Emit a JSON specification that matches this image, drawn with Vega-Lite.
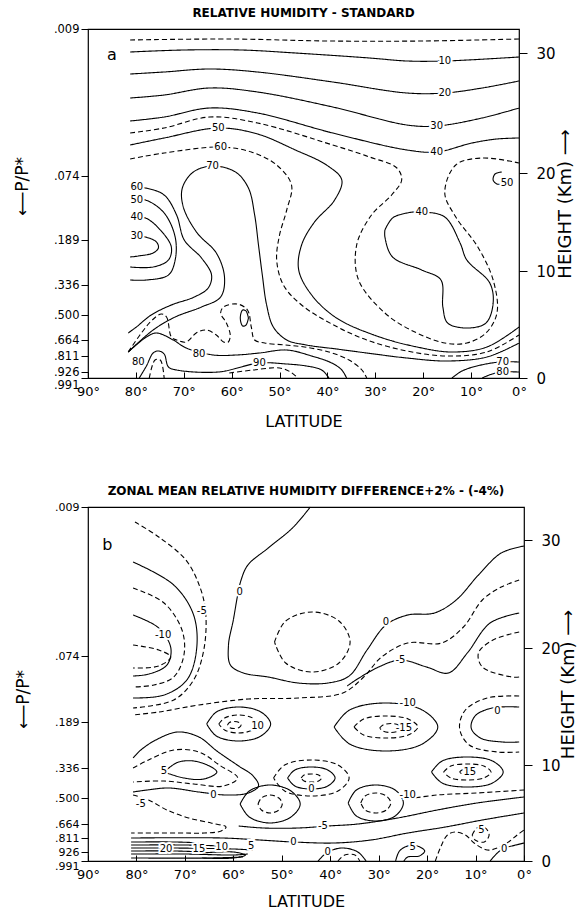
{
  "$schema": "https://vega.github.io/schema/vega-lite/v6.json",
  "background": "white",
  "padding": {"left": 12, "top": 6, "right": 4, "bottom": 4},
  "spacing": 54,
  "config": {
    "view": {"stroke": "black", "strokeWidth": 1.2},
    "font": "DejaVu Sans",
    "axis": {"domainColor": "black", "tickColor": "black", "labelColor": "black", "titleColor": "black", "grid": false, "labelFont": "DejaVu Sans", "titleFont": "DejaVu Sans", "labelFlush": false, "labelOverlap": false},
    "title": {"font": "DejaVu Sans", "fontSize": 12, "fontWeight": "bold", "color": "black", "offset": 3}
  },
  "datasets": {
    "top": [
      {"id": "T1", "c": "h", "lat": 81.2, "z": 338}, {"id": "T1", "c": "h", "lat": 60, "z": 339}, {"id": "T1", "c": "h", "lat": 40, "z": 337}, {"id": "T1", "c": "h", "lat": 20, "z": 337}, {"id": "T1", "c": "h", "lat": 0, "z": 339},
      {"id": "T2", "c": "m", "lat": 81.2, "z": 326}, {"id": "T2", "c": "m", "lat": 70, "z": 328}, {"id": "T2", "c": "m", "lat": 58, "z": 328}, {"id": "T2", "c": "m", "lat": 46.7, "z": 325}, {"id": "T2", "c": "m", "lat": 31.2, "z": 320}, {"id": "T2", "c": "m", "lat": 23.4, "z": 317}, {"id": "T2", "c": "m", "lat": 15.5, "z": 317}, {"id": "T2", "c": "m", "lat": 0, "z": 321},
      {"id": "T3", "c": "m", "lat": 81.2, "z": 304}, {"id": "T3", "c": "m", "lat": 74.1, "z": 306}, {"id": "T3", "c": "m", "lat": 64.6, "z": 309}, {"id": "T3", "c": "m", "lat": 54.6, "z": 306}, {"id": "T3", "c": "m", "lat": 38.9, "z": 296}, {"id": "T3", "c": "m", "lat": 23.4, "z": 285}, {"id": "T3", "c": "m", "lat": 15.5, "z": 285}, {"id": "T3", "c": "m", "lat": 7.7, "z": 290}, {"id": "T3", "c": "m", "lat": 0, "z": 297},
      {"id": "T4", "c": "m", "lat": 81.2, "z": 280}, {"id": "T4", "c": "m", "lat": 74.1, "z": 283}, {"id": "T4", "c": "m", "lat": 64.6, "z": 290}, {"id": "T4", "c": "m", "lat": 54.6, "z": 286}, {"id": "T4", "c": "m", "lat": 38.9, "z": 271}, {"id": "T4", "c": "m", "lat": 23.4, "z": 253}, {"id": "T4", "c": "m", "lat": 17.2, "z": 252}, {"id": "T4", "c": "m", "lat": 7.7, "z": 260}, {"id": "T4", "c": "m", "lat": 0, "z": 270},
      {"id": "T5", "c": "m", "lat": 81.2, "z": 257}, {"id": "T5", "c": "m", "lat": 74.1, "z": 261}, {"id": "T5", "c": "m", "lat": 64.6, "z": 270}, {"id": "T5", "c": "m", "lat": 54.6, "z": 265}, {"id": "T5", "c": "m", "lat": 38.9, "z": 245}, {"id": "T5", "c": "m", "lat": 23.4, "z": 228}, {"id": "T5", "c": "m", "lat": 17.2, "z": 226}, {"id": "T5", "c": "m", "lat": 9.8, "z": 235}, {"id": "T5", "c": "m", "lat": 4.6, "z": 239}, {"id": "T5", "c": "m", "lat": 0, "z": 240},
      {"id": "T6", "c": "h", "lat": 81.2, "z": 245}, {"id": "T6", "c": "h", "lat": 74.1, "z": 250}, {"id": "T6", "c": "h", "lat": 64.6, "z": 261}, {"id": "T6", "c": "h", "lat": 54.6, "z": 255}, {"id": "T6", "c": "h", "lat": 38.9, "z": 233}, {"id": "T6", "c": "h", "lat": 31.2, "z": 221}, {"id": "T6", "c": "h", "lat": 25.5, "z": 210}, {"id": "T6", "c": "h", "lat": 24.5, "z": 198}, {"id": "T6", "c": "h", "lat": 26.6, "z": 183}, {"id": "T6", "c": "h", "lat": 30.8, "z": 163}, {"id": "T6", "c": "h", "lat": 33.9, "z": 133}, {"id": "T6", "c": "h", "lat": 33.5, "z": 98}, {"id": "T6", "c": "h", "lat": 28, "z": 65}, {"id": "T6", "c": "h", "lat": 22.6, "z": 48}, {"id": "T6", "c": "h", "lat": 15.5, "z": 35}, {"id": "T6", "c": "h", "lat": 10.9, "z": 35}, {"id": "T6", "c": "h", "lat": 6.9, "z": 45}, {"id": "T6", "c": "h", "lat": 4.6, "z": 65}, {"id": "T6", "c": "h", "lat": 5.4, "z": 98}, {"id": "T6", "c": "h", "lat": 8.6, "z": 131}, {"id": "T6", "c": "h", "lat": 13.2, "z": 161}, {"id": "T6", "c": "h", "lat": 15.5, "z": 185}, {"id": "T6", "c": "h", "lat": 13.2, "z": 213}, {"id": "T6", "c": "h", "lat": 7.7, "z": 220}, {"id": "T6", "c": "h", "lat": 0, "z": 215},
      {"id": "L40", "c": "m", "lat": 28, "z": 148}, {"id": "L40", "c": "m", "lat": 26.4, "z": 160}, {"id": "L40", "c": "m", "lat": 23.4, "z": 165}, {"id": "L40", "c": "m", "lat": 20.3, "z": 166}, {"id": "L40", "c": "m", "lat": 15.5, "z": 161}, {"id": "L40", "c": "m", "lat": 12.3, "z": 135}, {"id": "L40", "c": "m", "lat": 10.9, "z": 118}, {"id": "L40", "c": "m", "lat": 6.1, "z": 95}, {"id": "L40", "c": "m", "lat": 5.4, "z": 75}, {"id": "L40", "c": "m", "lat": 6.9, "z": 55}, {"id": "L40", "c": "m", "lat": 10.9, "z": 50}, {"id": "L40", "c": "m", "lat": 14.9, "z": 55}, {"id": "L40", "c": "m", "lat": 15.9, "z": 71}, {"id": "L40", "c": "m", "lat": 16.3, "z": 98}, {"id": "L40", "c": "m", "lat": 20.3, "z": 108}, {"id": "L40", "c": "m", "lat": 26.4, "z": 121}, {"id": "L40", "c": "m", "lat": 28, "z": 141}, {"id": "L40", "c": "m", "lat": 28, "z": 148},
      {"id": "L50", "c": "m", "lat": 3.6, "z": 206}, {"id": "L50", "c": "m", "lat": 5, "z": 204}, {"id": "L50", "c": "m", "lat": 5.4, "z": 198}, {"id": "L50", "c": "m", "lat": 4.6, "z": 194}, {"id": "L50", "c": "m", "lat": 3.6, "z": 194},
      {"id": "A", "c": "m", "lat": 81.2, "z": 233}, {"id": "A", "c": "m", "lat": 74.1, "z": 240}, {"id": "A", "c": "m", "lat": 62.8, "z": 250}, {"id": "A", "c": "m", "lat": 54.6, "z": 244}, {"id": "A", "c": "m", "lat": 46.7, "z": 228}, {"id": "A", "c": "m", "lat": 40.2, "z": 213}, {"id": "A", "c": "m", "lat": 37, "z": 198}, {"id": "A", "c": "m", "lat": 38.5, "z": 178}, {"id": "A", "c": "m", "lat": 42.7, "z": 156}, {"id": "A", "c": "m", "lat": 45.4, "z": 133}, {"id": "A", "c": "m", "lat": 46, "z": 108}, {"id": "A", "c": "m", "lat": 43.3, "z": 83}, {"id": "A", "c": "m", "lat": 38.1, "z": 60}, {"id": "A", "c": "m", "lat": 29.7, "z": 42}, {"id": "A", "c": "m", "lat": 21.3, "z": 31}, {"id": "A", "c": "m", "lat": 14, "z": 26}, {"id": "A", "c": "m", "lat": 6.7, "z": 31}, {"id": "A", "c": "m", "lat": 0, "z": 51},
      {"id": "C", "c": "h", "lat": 81.2, "z": 219}, {"id": "C", "c": "h", "lat": 74.1, "z": 225}, {"id": "C", "c": "h", "lat": 62.3, "z": 231}, {"id": "C", "c": "h", "lat": 55.9, "z": 226}, {"id": "C", "c": "h", "lat": 50.6, "z": 213}, {"id": "C", "c": "h", "lat": 47.5, "z": 193}, {"id": "C", "c": "h", "lat": 48.5, "z": 168}, {"id": "C", "c": "h", "lat": 50, "z": 143}, {"id": "C", "c": "h", "lat": 50.6, "z": 118}, {"id": "C", "c": "h", "lat": 49.2, "z": 93}, {"id": "C", "c": "h", "lat": 45.4, "z": 73}, {"id": "C", "c": "h", "lat": 39.1, "z": 54}, {"id": "C", "c": "h", "lat": 31.8, "z": 38}, {"id": "C", "c": "h", "lat": 23.4, "z": 27}, {"id": "C", "c": "h", "lat": 15.1, "z": 22}, {"id": "C", "c": "h", "lat": 6.7, "z": 26}, {"id": "C", "c": "h", "lat": 0, "z": 43},
      {"id": "L70", "c": "m", "lat": 81.6, "z": 26}, {"id": "L70", "c": "m", "lat": 76.4, "z": 48}, {"id": "L70", "c": "m", "lat": 71.8, "z": 61}, {"id": "L70", "c": "m", "lat": 66.3, "z": 71}, {"id": "L70", "c": "m", "lat": 62.3, "z": 81}, {"id": "L70", "c": "m", "lat": 61.5, "z": 101}, {"id": "L70", "c": "m", "lat": 63.2, "z": 125}, {"id": "L70", "c": "m", "lat": 67.2, "z": 145}, {"id": "L70", "c": "m", "lat": 70.1, "z": 171}, {"id": "L70", "c": "m", "lat": 70.3, "z": 190}, {"id": "L70", "c": "m", "lat": 68, "z": 206}, {"id": "L70", "c": "m", "lat": 64, "z": 212}, {"id": "L70", "c": "m", "lat": 59.2, "z": 206}, {"id": "L70", "c": "m", "lat": 56.5, "z": 190}, {"id": "L70", "c": "m", "lat": 55.2, "z": 163}, {"id": "L70", "c": "m", "lat": 54.4, "z": 133}, {"id": "L70", "c": "m", "lat": 53.6, "z": 103}, {"id": "L70", "c": "m", "lat": 52.7, "z": 73}, {"id": "L70", "c": "m", "lat": 51.3, "z": 51}, {"id": "L70", "c": "m", "lat": 48.5, "z": 38}, {"id": "L70", "c": "m", "lat": 44.4, "z": 33}, {"id": "L70", "c": "m", "lat": 38.1, "z": 29}, {"id": "L70", "c": "m", "lat": 31.8, "z": 25}, {"id": "L70", "c": "m", "lat": 23.4, "z": 20}, {"id": "L70", "c": "m", "lat": 15.1, "z": 17}, {"id": "L70", "c": "m", "lat": 6.7, "z": 21}, {"id": "L70", "c": "m", "lat": 0, "z": 35},
      {"id": "U30", "c": "m", "lat": 81.2, "z": 142}, {"id": "U30", "c": "m", "lat": 78, "z": 141}, {"id": "U30", "c": "m", "lat": 75.7, "z": 136}, {"id": "U30", "c": "m", "lat": 75.3, "z": 130}, {"id": "U30", "c": "m", "lat": 76.4, "z": 125}, {"id": "U30", "c": "m", "lat": 79.5, "z": 122}, {"id": "U30", "c": "m", "lat": 81.2, "z": 121},
      {"id": "U40", "c": "m", "lat": 81.2, "z": 161}, {"id": "U40", "c": "m", "lat": 78, "z": 160}, {"id": "U40", "c": "m", "lat": 74.9, "z": 148}, {"id": "U40", "c": "m", "lat": 72.6, "z": 131}, {"id": "U40", "c": "m", "lat": 73.2, "z": 118}, {"id": "U40", "c": "m", "lat": 76.4, "z": 111}, {"id": "U40", "c": "m", "lat": 81.2, "z": 111},
      {"id": "U50", "c": "m", "lat": 81.2, "z": 178}, {"id": "U50", "c": "m", "lat": 78, "z": 178}, {"id": "U50", "c": "m", "lat": 74.1, "z": 165}, {"id": "U50", "c": "m", "lat": 71.8, "z": 141}, {"id": "U50", "c": "m", "lat": 71.8, "z": 118}, {"id": "U50", "c": "m", "lat": 73.2, "z": 103}, {"id": "U50", "c": "m", "lat": 77.8, "z": 98}, {"id": "U50", "c": "m", "lat": 81.2, "z": 98},
      {"id": "U60", "c": "m", "lat": 81.2, "z": 191}, {"id": "U60", "c": "m", "lat": 78, "z": 190}, {"id": "U60", "c": "m", "lat": 74.1, "z": 183}, {"id": "U60", "c": "m", "lat": 71.5, "z": 163}, {"id": "U60", "c": "m", "lat": 69.9, "z": 138}, {"id": "U60", "c": "m", "lat": 66.3, "z": 120}, {"id": "U60", "c": "m", "lat": 64.2, "z": 103}, {"id": "U60", "c": "m", "lat": 64.9, "z": 90}, {"id": "U60", "c": "m", "lat": 67.8, "z": 81}, {"id": "U60", "c": "m", "lat": 72.6, "z": 73}, {"id": "U60", "c": "m", "lat": 76.8, "z": 63}, {"id": "U60", "c": "m", "lat": 79.9, "z": 51}, {"id": "U60", "c": "m", "lat": 81.6, "z": 45},
      {"id": "L80", "c": "m", "lat": 81.6, "z": 26}, {"id": "L80", "c": "m", "lat": 77.8, "z": 41}, {"id": "L80", "c": "m", "lat": 75.7, "z": 45}, {"id": "L80", "c": "m", "lat": 72.2, "z": 38}, {"id": "L80", "c": "m", "lat": 69.5, "z": 30}, {"id": "L80", "c": "m", "lat": 63.8, "z": 23}, {"id": "L80", "c": "m", "lat": 59, "z": 23}, {"id": "L80", "c": "m", "lat": 54.2, "z": 25}, {"id": "L80", "c": "m", "lat": 48.5, "z": 28}, {"id": "L80", "c": "m", "lat": 43.3, "z": 22}, {"id": "L80", "c": "m", "lat": 39.1, "z": 15}, {"id": "L80", "c": "m", "lat": 37, "z": 8}, {"id": "L80", "c": "m", "lat": 36, "z": 0},
      {"id": "L90", "c": "m", "lat": 79.3, "z": 0}, {"id": "L90", "c": "m", "lat": 77.8, "z": 12}, {"id": "L90", "c": "m", "lat": 76.4, "z": 25}, {"id": "L90", "c": "m", "lat": 75.3, "z": 27}, {"id": "L90", "c": "m", "lat": 74.1, "z": 24}, {"id": "L90", "c": "m", "lat": 73.2, "z": 11}, {"id": "L90", "c": "m", "lat": 71.5, "z": 8}, {"id": "L90", "c": "m", "lat": 62.8, "z": 6}, {"id": "L90", "c": "m", "lat": 54.2, "z": 15}, {"id": "L90", "c": "m", "lat": 48.5, "z": 14}, {"id": "L90", "c": "m", "lat": 44.4, "z": 12}, {"id": "L90", "c": "m", "lat": 41.2, "z": 8}, {"id": "L90", "c": "m", "lat": 39.7, "z": 0},
      {"id": "H1", "c": "h", "lat": 77.2, "z": 0}, {"id": "H1", "c": "h", "lat": 76, "z": 18}, {"id": "H1", "c": "h", "lat": 74.9, "z": 18}, {"id": "H1", "c": "h", "lat": 74.1, "z": 0},
      {"id": "H2", "c": "h", "lat": 60.5, "z": 5}, {"id": "H2", "c": "h", "lat": 55.5, "z": 8}, {"id": "H2", "c": "h", "lat": 50, "z": 10}, {"id": "H2", "c": "h", "lat": 47.7, "z": 6}, {"id": "H2", "c": "h", "lat": 46.4, "z": 1},
      {"id": "W", "c": "h", "lat": 81.6, "z": 26}, {"id": "W", "c": "h", "lat": 77, "z": 56}, {"id": "W", "c": "h", "lat": 74.7, "z": 64}, {"id": "W", "c": "h", "lat": 73.6, "z": 61}, {"id": "W", "c": "h", "lat": 72.6, "z": 41}, {"id": "W", "c": "h", "lat": 71.5, "z": 38}, {"id": "W", "c": "h", "lat": 69.5, "z": 36}, {"id": "W", "c": "h", "lat": 67.4, "z": 45}, {"id": "W", "c": "h", "lat": 65.3, "z": 48}, {"id": "W", "c": "h", "lat": 63.2, "z": 43}, {"id": "W", "c": "h", "lat": 61.7, "z": 36}, {"id": "W", "c": "h", "lat": 60.7, "z": 36}, {"id": "W", "c": "h", "lat": 60.3, "z": 43}, {"id": "W", "c": "h", "lat": 61.1, "z": 55}, {"id": "W", "c": "h", "lat": 62.3, "z": 65}, {"id": "W", "c": "h", "lat": 61.7, "z": 71}, {"id": "W", "c": "h", "lat": 58.8, "z": 74}, {"id": "W", "c": "h", "lat": 56.7, "z": 68}, {"id": "W", "c": "h", "lat": 55.9, "z": 51}, {"id": "W", "c": "h", "lat": 55.2, "z": 38}, {"id": "W", "c": "h", "lat": 53.1, "z": 35}, {"id": "W", "c": "h", "lat": 48.9, "z": 33}, {"id": "W", "c": "h", "lat": 44.8, "z": 31}, {"id": "W", "c": "h", "lat": 39.7, "z": 26}, {"id": "W", "c": "h", "lat": 35.5, "z": 18}, {"id": "W", "c": "h", "lat": 32.8, "z": 8}, {"id": "W", "c": "h", "lat": 31.8, "z": 0},
      {"id": "O", "c": "m", "lat": 56.5, "z": 60}, {"id": "O", "c": "m", "lat": 57, "z": 67}, {"id": "O", "c": "m", "lat": 57.7, "z": 68}, {"id": "O", "c": "m", "lat": 58.2, "z": 60}, {"id": "O", "c": "m", "lat": 57.7, "z": 52}, {"id": "O", "c": "m", "lat": 57, "z": 53}, {"id": "O", "c": "m", "lat": 56.5, "z": 60},
      {"id": "R70", "c": "m", "lat": 14, "z": 0}, {"id": "R70", "c": "m", "lat": 11.9, "z": 7}, {"id": "R70", "c": "m", "lat": 8.8, "z": 12}, {"id": "R70", "c": "m", "lat": 4, "z": 16}, {"id": "R70", "c": "m", "lat": 0, "z": 16},
      {"id": "R80", "c": "m", "lat": 7.7, "z": 0}, {"id": "R80", "c": "m", "lat": 5.6, "z": 4}, {"id": "R80", "c": "m", "lat": 3.6, "z": 6}, {"id": "R80", "c": "m", "lat": 0, "z": 6}
    ],
    "topLab": [
      {"t": "10", "lat": 15.5, "z": 317}, {"t": "20", "lat": 15.5, "z": 285}, {"t": "30", "lat": 17.2, "z": 252}, {"t": "40", "lat": 17.2, "z": 226}, {"t": "40", "lat": 20.3, "z": 166}, {"t": "50", "lat": 2.5, "z": 195},
      {"t": "50", "lat": 62.8, "z": 250}, {"t": "60", "lat": 62.3, "z": 231}, {"t": "70", "lat": 64, "z": 212},
      {"t": "60", "lat": 79.8, "z": 191}, {"t": "50", "lat": 79.8, "z": 178}, {"t": "40", "lat": 79.8, "z": 161}, {"t": "30", "lat": 79.8, "z": 142},
      {"t": "80", "lat": 79.5, "z": 16}, {"t": "80", "lat": 66.8, "z": 24}, {"t": "90", "lat": 54.2, "z": 15}, {"t": "70", "lat": 3.4, "z": 16}, {"t": "80", "lat": 3.4, "z": 6}
    ],
    "bot": [
      {"id": "B0", "c": "m", "lat": 44.1, "z": 354}, {"id": "B0", "c": "m", "lat": 47.8, "z": 333}, {"id": "B0", "c": "m", "lat": 52.8, "z": 313}, {"id": "B0", "c": "m", "lat": 57, "z": 296}, {"id": "B0", "c": "m", "lat": 58.4, "z": 281}, {"id": "B0", "c": "m", "lat": 59.1, "z": 266}, {"id": "B0", "c": "m", "lat": 60, "z": 241}, {"id": "B0", "c": "m", "lat": 61, "z": 216}, {"id": "B0", "c": "m", "lat": 60.6, "z": 196}, {"id": "B0", "c": "m", "lat": 57.9, "z": 188}, {"id": "B0", "c": "m", "lat": 52.8, "z": 184}, {"id": "B0", "c": "m", "lat": 46.6, "z": 178}, {"id": "B0", "c": "m", "lat": 40.5, "z": 178}, {"id": "B0", "c": "m", "lat": 36.1, "z": 185}, {"id": "B0", "c": "m", "lat": 32.4, "z": 211}, {"id": "B0", "c": "m", "lat": 28.5, "z": 236}, {"id": "B0", "c": "m", "lat": 24, "z": 246}, {"id": "B0", "c": "m", "lat": 18.5, "z": 248}, {"id": "B0", "c": "m", "lat": 14, "z": 261}, {"id": "B0", "c": "m", "lat": 9.4, "z": 286}, {"id": "B0", "c": "m", "lat": 4.7, "z": 308}, {"id": "B0", "c": "m", "lat": 0, "z": 315},
      {"id": "BC", "c": "h", "lat": 51.5, "z": 219}, {"id": "BC", "c": "h", "lat": 49.2, "z": 240}, {"id": "BC", "c": "h", "lat": 43.7, "z": 249}, {"id": "BC", "c": "h", "lat": 38.2, "z": 240}, {"id": "BC", "c": "h", "lat": 35.9, "z": 219}, {"id": "BC", "c": "h", "lat": 38.2, "z": 198}, {"id": "BC", "c": "h", "lat": 43.7, "z": 189}, {"id": "BC", "c": "h", "lat": 49.2, "z": 198}, {"id": "BC", "c": "h", "lat": 51.5, "z": 219},
      {"id": "U1", "c": "h", "lat": 80.3, "z": 339}, {"id": "U1", "c": "h", "lat": 75.4, "z": 324}, {"id": "U1", "c": "h", "lat": 69.8, "z": 301}, {"id": "U1", "c": "h", "lat": 66.9, "z": 274}, {"id": "U1", "c": "h", "lat": 65.7, "z": 248}, {"id": "U1", "c": "h", "lat": 66.1, "z": 211}, {"id": "U1", "c": "h", "lat": 68.2, "z": 181}, {"id": "U1", "c": "h", "lat": 72.3, "z": 161}, {"id": "U1", "c": "h", "lat": 80.7, "z": 153},
      {"id": "U2", "c": "m", "lat": 80.7, "z": 299}, {"id": "U2", "c": "m", "lat": 72.3, "z": 276}, {"id": "U2", "c": "m", "lat": 68.2, "z": 246}, {"id": "U2", "c": "m", "lat": 67.6, "z": 211}, {"id": "U2", "c": "m", "lat": 69.6, "z": 181}, {"id": "U2", "c": "m", "lat": 74.3, "z": 166}, {"id": "U2", "c": "m", "lat": 80.7, "z": 163},
      {"id": "U3", "c": "h", "lat": 80.7, "z": 273}, {"id": "U3", "c": "h", "lat": 74.3, "z": 258}, {"id": "U3", "c": "h", "lat": 70.6, "z": 231}, {"id": "U3", "c": "h", "lat": 70.2, "z": 206}, {"id": "U3", "c": "h", "lat": 72.3, "z": 184}, {"id": "U3", "c": "h", "lat": 76.4, "z": 176}, {"id": "U3", "c": "h", "lat": 80.7, "z": 174},
      {"id": "U4", "c": "m", "lat": 80.7, "z": 246}, {"id": "U4", "c": "m", "lat": 75.4, "z": 233}, {"id": "U4", "c": "m", "lat": 72.9, "z": 213}, {"id": "U4", "c": "m", "lat": 73.7, "z": 196}, {"id": "U4", "c": "m", "lat": 77.4, "z": 187}, {"id": "U4", "c": "m", "lat": 80.7, "z": 185},
      {"id": "U5", "c": "h", "lat": 80.7, "z": 216}, {"id": "U5", "c": "h", "lat": 75.4, "z": 211}, {"id": "U5", "c": "h", "lat": 72.9, "z": 204}, {"id": "U5", "c": "h", "lat": 75.4, "z": 195}, {"id": "U5", "c": "h", "lat": 80.7, "z": 193},
      {"id": "R1", "c": "h", "lat": 1, "z": 281}, {"id": "R1", "c": "h", "lat": 4.7, "z": 274}, {"id": "R1", "c": "h", "lat": 8.6, "z": 261}, {"id": "R1", "c": "h", "lat": 12.5, "z": 234}, {"id": "R1", "c": "h", "lat": 17, "z": 218}, {"id": "R1", "c": "h", "lat": 24, "z": 218}, {"id": "R1", "c": "h", "lat": 29.4, "z": 204}, {"id": "R1", "c": "h", "lat": 33.1, "z": 184}, {"id": "R1", "c": "h", "lat": 37.4, "z": 168}, {"id": "R1", "c": "h", "lat": 46.6, "z": 163}, {"id": "R1", "c": "h", "lat": 56.9, "z": 162}, {"id": "R1", "c": "h", "lat": 67.1, "z": 156}, {"id": "R1", "c": "h", "lat": 75.4, "z": 149}, {"id": "R1", "c": "h", "lat": 80.9, "z": 146},
      {"id": "R2", "c": "m", "lat": 1, "z": 248}, {"id": "R2", "c": "m", "lat": 7, "z": 238}, {"id": "R2", "c": "m", "lat": 11.7, "z": 208}, {"id": "R2", "c": "m", "lat": 15.6, "z": 188}, {"id": "R2", "c": "m", "lat": 20.1, "z": 194}, {"id": "R2", "c": "m", "lat": 25.5, "z": 201}, {"id": "R2", "c": "m", "lat": 30, "z": 194}, {"id": "R2", "c": "m", "lat": 34.7, "z": 181}, {"id": "R2", "c": "m", "lat": 36.5, "z": 175},
      {"id": "R3", "c": "h", "lat": 1, "z": 229}, {"id": "R3", "c": "h", "lat": 6.4, "z": 221}, {"id": "R3", "c": "h", "lat": 9.4, "z": 208}, {"id": "R3", "c": "h", "lat": 8.6, "z": 194}, {"id": "R3", "c": "h", "lat": 2.5, "z": 184}, {"id": "R3", "c": "h", "lat": 1, "z": 184},
      {"id": "BN", "c": "z", "lat": 80.7, "z": 103}, {"id": "BN", "c": "z", "lat": 79.1, "z": 111}, {"id": "BN", "c": "z", "lat": 76, "z": 121}, {"id": "BN", "c": "z", "lat": 71.5, "z": 129}, {"id": "BN", "c": "z", "lat": 67.1, "z": 124}, {"id": "BN", "c": "z", "lat": 63.4, "z": 110}, {"id": "BN", "c": "z", "lat": 58.9, "z": 95}, {"id": "BN", "c": "z", "lat": 55.9, "z": 85}, {"id": "BN", "c": "z", "lat": 54.8, "z": 75}, {"id": "BN", "c": "z", "lat": 56.9, "z": 68}, {"id": "BN", "c": "z", "lat": 61.4, "z": 66}, {"id": "BN", "c": "z", "lat": 67.1, "z": 69}, {"id": "BN", "c": "z", "lat": 73.3, "z": 73}, {"id": "BN", "c": "z", "lat": 77.8, "z": 71}, {"id": "BN", "c": "z", "lat": 80.7, "z": 69},
      {"id": "BND", "c": "h", "lat": 80.7, "z": 93}, {"id": "BND", "c": "h", "lat": 77.5, "z": 101}, {"id": "BND", "c": "h", "lat": 72.3, "z": 111}, {"id": "BND", "c": "h", "lat": 67.1, "z": 109}, {"id": "BND", "c": "h", "lat": 62.9, "z": 96}, {"id": "BND", "c": "h", "lat": 59.1, "z": 83}, {"id": "BND", "c": "h", "lat": 62, "z": 75}, {"id": "BND", "c": "h", "lat": 68.2, "z": 77}, {"id": "BND", "c": "h", "lat": 74.3, "z": 80}, {"id": "BND", "c": "h", "lat": 80.7, "z": 79},
      {"id": "BN5", "c": "m", "lat": 74.3, "z": 89}, {"id": "BN5", "c": "m", "lat": 71.3, "z": 99}, {"id": "BN5", "c": "m", "lat": 67.1, "z": 99}, {"id": "BN5", "c": "m", "lat": 63.4, "z": 89}, {"id": "BN5", "c": "m", "lat": 66.1, "z": 82}, {"id": "BN5", "c": "m", "lat": 70.2, "z": 83}, {"id": "BN5", "c": "m", "lat": 74.3, "z": 89},
      {"id": "G1", "c": "m", "lat": 65.5, "z": 137}, {"id": "G1", "c": "m", "lat": 63.5, "z": 149}, {"id": "G1", "c": "m", "lat": 58.9, "z": 154}, {"id": "G1", "c": "m", "lat": 54.3, "z": 149}, {"id": "G1", "c": "m", "lat": 52.3, "z": 137}, {"id": "G1", "c": "m", "lat": 54.3, "z": 125}, {"id": "G1", "c": "m", "lat": 58.9, "z": 120}, {"id": "G1", "c": "m", "lat": 63.5, "z": 125}, {"id": "G1", "c": "m", "lat": 65.5, "z": 137},
      {"id": "G2", "c": "h", "lat": 63, "z": 137}, {"id": "G2", "c": "h", "lat": 61.8, "z": 143}, {"id": "G2", "c": "h", "lat": 58.9, "z": 146}, {"id": "G2", "c": "h", "lat": 56, "z": 143}, {"id": "G2", "c": "h", "lat": 54.8, "z": 137}, {"id": "G2", "c": "h", "lat": 56, "z": 131}, {"id": "G2", "c": "h", "lat": 58.9, "z": 128}, {"id": "G2", "c": "h", "lat": 61.8, "z": 131}, {"id": "G2", "c": "h", "lat": 63, "z": 137},
      {"id": "G3", "c": "h", "lat": 61.2, "z": 136}, {"id": "G3", "c": "h", "lat": 60.8, "z": 138.5}, {"id": "G3", "c": "h", "lat": 59.8, "z": 139.5}, {"id": "G3", "c": "h", "lat": 58.8, "z": 138.5}, {"id": "G3", "c": "h", "lat": 58.4, "z": 136}, {"id": "G3", "c": "h", "lat": 58.8, "z": 133.5}, {"id": "G3", "c": "h", "lat": 59.8, "z": 132.5}, {"id": "G3", "c": "h", "lat": 60.8, "z": 133.5}, {"id": "G3", "c": "h", "lat": 61.2, "z": 136},
      {"id": "F1", "c": "m", "lat": 39.2, "z": 134}, {"id": "F1", "c": "m", "lat": 36, "z": 151}, {"id": "F1", "c": "m", "lat": 28.5, "z": 158}, {"id": "F1", "c": "m", "lat": 21, "z": 151}, {"id": "F1", "c": "m", "lat": 17.8, "z": 134}, {"id": "F1", "c": "m", "lat": 21, "z": 117}, {"id": "F1", "c": "m", "lat": 28.5, "z": 110}, {"id": "F1", "c": "m", "lat": 36, "z": 117}, {"id": "F1", "c": "m", "lat": 39.2, "z": 134},
      {"id": "F2", "c": "h", "lat": 35.1, "z": 134}, {"id": "F2", "c": "h", "lat": 33.1, "z": 142}, {"id": "F2", "c": "h", "lat": 28.5, "z": 145}, {"id": "F2", "c": "h", "lat": 23.9, "z": 142}, {"id": "F2", "c": "h", "lat": 21.9, "z": 134}, {"id": "F2", "c": "h", "lat": 23.9, "z": 126}, {"id": "F2", "c": "h", "lat": 28.5, "z": 123}, {"id": "F2", "c": "h", "lat": 33.1, "z": 126}, {"id": "F2", "c": "h", "lat": 35.1, "z": 134},
      {"id": "F3", "c": "h", "lat": 29.8, "z": 133}, {"id": "F3", "c": "h", "lat": 29.1, "z": 136}, {"id": "F3", "c": "h", "lat": 27.5, "z": 137.5}, {"id": "F3", "c": "h", "lat": 25.9, "z": 136}, {"id": "F3", "c": "h", "lat": 25.2, "z": 133}, {"id": "F3", "c": "h", "lat": 25.9, "z": 130}, {"id": "F3", "c": "h", "lat": 27.5, "z": 128.5}, {"id": "F3", "c": "h", "lat": 29.1, "z": 130}, {"id": "F3", "c": "h", "lat": 29.8, "z": 133},
      {"id": "E1", "c": "m", "lat": 1, "z": 154}, {"id": "E1", "c": "m", "lat": 6.6, "z": 153}, {"id": "E1", "c": "m", "lat": 10.1, "z": 145}, {"id": "E1", "c": "m", "lat": 10.9, "z": 133}, {"id": "E1", "c": "m", "lat": 9, "z": 123}, {"id": "E1", "c": "m", "lat": 4.5, "z": 119}, {"id": "E1", "c": "m", "lat": 1, "z": 119},
      {"id": "E2", "c": "h", "lat": 1, "z": 165}, {"id": "E2", "c": "h", "lat": 7.6, "z": 163}, {"id": "E2", "c": "h", "lat": 12.1, "z": 151}, {"id": "E2", "c": "h", "lat": 13.3, "z": 133}, {"id": "E2", "c": "h", "lat": 11.3, "z": 116}, {"id": "E2", "c": "h", "lat": 5.5, "z": 109}, {"id": "E2", "c": "h", "lat": 1, "z": 109},
      {"id": "K1", "c": "z", "lat": 48.8, "z": 83}, {"id": "K1", "c": "z", "lat": 47.3, "z": 91}, {"id": "K1", "c": "z", "lat": 43.9, "z": 94}, {"id": "K1", "c": "z", "lat": 40.5, "z": 91}, {"id": "K1", "c": "z", "lat": 39, "z": 83}, {"id": "K1", "c": "z", "lat": 40.5, "z": 75}, {"id": "K1", "c": "z", "lat": 43.9, "z": 72}, {"id": "K1", "c": "z", "lat": 47.3, "z": 75}, {"id": "K1", "c": "z", "lat": 48.8, "z": 83},
      {"id": "K2", "c": "h", "lat": 51.7, "z": 83}, {"id": "K2", "c": "h", "lat": 49.4, "z": 96}, {"id": "K2", "c": "h", "lat": 43.9, "z": 101}, {"id": "K2", "c": "h", "lat": 38.4, "z": 96}, {"id": "K2", "c": "h", "lat": 36.1, "z": 83}, {"id": "K2", "c": "h", "lat": 38.4, "z": 70}, {"id": "K2", "c": "h", "lat": 43.9, "z": 65}, {"id": "K2", "c": "h", "lat": 49.4, "z": 70}, {"id": "K2", "c": "h", "lat": 51.7, "z": 83},
      {"id": "K3", "c": "h", "lat": 46, "z": 83}, {"id": "K3", "c": "h", "lat": 45.4, "z": 86}, {"id": "K3", "c": "h", "lat": 43.9, "z": 87}, {"id": "K3", "c": "h", "lat": 42.4, "z": 86}, {"id": "K3", "c": "h", "lat": 41.8, "z": 83}, {"id": "K3", "c": "h", "lat": 42.4, "z": 80}, {"id": "K3", "c": "h", "lat": 43.9, "z": 79}, {"id": "K3", "c": "h", "lat": 45.4, "z": 80}, {"id": "K3", "c": "h", "lat": 46, "z": 83},
      {"id": "Q1", "c": "h", "lat": 16.6, "z": 89}, {"id": "Q1", "c": "h", "lat": 15.1, "z": 95}, {"id": "Q1", "c": "h", "lat": 11.7, "z": 97}, {"id": "Q1", "c": "h", "lat": 8.3, "z": 95}, {"id": "Q1", "c": "h", "lat": 6.8, "z": 89}, {"id": "Q1", "c": "h", "lat": 8.3, "z": 83}, {"id": "Q1", "c": "h", "lat": 11.7, "z": 81}, {"id": "Q1", "c": "h", "lat": 15.1, "z": 83}, {"id": "Q1", "c": "h", "lat": 16.6, "z": 89},
      {"id": "Q2", "c": "m", "lat": 19.1, "z": 89}, {"id": "Q2", "c": "m", "lat": 16.9, "z": 100}, {"id": "Q2", "c": "m", "lat": 11.7, "z": 104}, {"id": "Q2", "c": "m", "lat": 6.5, "z": 100}, {"id": "Q2", "c": "m", "lat": 4.3, "z": 89}, {"id": "Q2", "c": "m", "lat": 6.5, "z": 78}, {"id": "Q2", "c": "m", "lat": 11.7, "z": 74}, {"id": "Q2", "c": "m", "lat": 16.9, "z": 78}, {"id": "Q2", "c": "m", "lat": 19.1, "z": 89},
      {"id": "Q3", "c": "h", "lat": 13.3, "z": 89}, {"id": "Q3", "c": "h", "lat": 12.8, "z": 91}, {"id": "Q3", "c": "h", "lat": 11.7, "z": 92}, {"id": "Q3", "c": "h", "lat": 10.6, "z": 91}, {"id": "Q3", "c": "h", "lat": 10.1, "z": 89}, {"id": "Q3", "c": "h", "lat": 10.6, "z": 87}, {"id": "Q3", "c": "h", "lat": 11.7, "z": 86}, {"id": "Q3", "c": "h", "lat": 12.8, "z": 87}, {"id": "Q3", "c": "h", "lat": 13.3, "z": 89},
      {"id": "V1", "c": "m", "lat": 36.3, "z": 58}, {"id": "V1", "c": "m", "lat": 34.6, "z": 71}, {"id": "V1", "c": "m", "lat": 30.6, "z": 76}, {"id": "V1", "c": "m", "lat": 26.6, "z": 71}, {"id": "V1", "c": "m", "lat": 24.9, "z": 58}, {"id": "V1", "c": "m", "lat": 26.6, "z": 45}, {"id": "V1", "c": "m", "lat": 30.6, "z": 40}, {"id": "V1", "c": "m", "lat": 34.6, "z": 45}, {"id": "V1", "c": "m", "lat": 36.3, "z": 58},
      {"id": "V2", "c": "h", "lat": 33.7, "z": 58}, {"id": "V2", "c": "h", "lat": 32.8, "z": 65}, {"id": "V2", "c": "h", "lat": 30.6, "z": 68}, {"id": "V2", "c": "h", "lat": 28.4, "z": 65}, {"id": "V2", "c": "h", "lat": 27.5, "z": 58}, {"id": "V2", "c": "h", "lat": 28.4, "z": 51}, {"id": "V2", "c": "h", "lat": 30.6, "z": 48}, {"id": "V2", "c": "h", "lat": 32.8, "z": 51}, {"id": "V2", "c": "h", "lat": 33.7, "z": 58},
      {"id": "P1", "c": "m", "lat": 58.6, "z": 57}, {"id": "P1", "c": "m", "lat": 56.7, "z": 70}, {"id": "P1", "c": "m", "lat": 52.4, "z": 76}, {"id": "P1", "c": "m", "lat": 48.1, "z": 70}, {"id": "P1", "c": "m", "lat": 46.2, "z": 57}, {"id": "P1", "c": "m", "lat": 48.1, "z": 44}, {"id": "P1", "c": "m", "lat": 52.4, "z": 38}, {"id": "P1", "c": "m", "lat": 56.7, "z": 44}, {"id": "P1", "c": "m", "lat": 58.6, "z": 57},
      {"id": "P2", "c": "h", "lat": 54.9, "z": 57}, {"id": "P2", "c": "h", "lat": 54.2, "z": 63}, {"id": "P2", "c": "h", "lat": 52.4, "z": 66}, {"id": "P2", "c": "h", "lat": 50.6, "z": 63}, {"id": "P2", "c": "h", "lat": 49.9, "z": 57}, {"id": "P2", "c": "h", "lat": 50.6, "z": 51}, {"id": "P2", "c": "h", "lat": 52.4, "z": 48}, {"id": "P2", "c": "h", "lat": 54.2, "z": 51}, {"id": "P2", "c": "h", "lat": 54.9, "z": 57},
      {"id": "LL1", "c": "h", "lat": 80.7, "z": 66}, {"id": "LL1", "c": "h", "lat": 77.5, "z": 61}, {"id": "LL1", "c": "h", "lat": 73.7, "z": 51}, {"id": "LL1", "c": "h", "lat": 69.2, "z": 43}, {"id": "LL1", "c": "h", "lat": 64.6, "z": 38}, {"id": "LL1", "c": "h", "lat": 61.5, "z": 34}, {"id": "LL1", "c": "h", "lat": 62.5, "z": 30}, {"id": "LL1", "c": "h", "lat": 66, "z": 28}, {"id": "LL1", "c": "h", "lat": 71.3, "z": 28}, {"id": "LL1", "c": "h", "lat": 81.1, "z": 28},
      {"id": "LL2", "c": "m", "lat": 58.9, "z": 35}, {"id": "LL2", "c": "m", "lat": 53.8, "z": 33}, {"id": "LL2", "c": "m", "lat": 46.6, "z": 33}, {"id": "LL2", "c": "m", "lat": 40.5, "z": 35}, {"id": "LL2", "c": "m", "lat": 34.3, "z": 37}, {"id": "LL2", "c": "m", "lat": 26.1, "z": 43}, {"id": "LL2", "c": "m", "lat": 17.9, "z": 51}, {"id": "LL2", "c": "m", "lat": 9.7, "z": 58}, {"id": "LL2", "c": "m", "lat": 0, "z": 64},
      {"id": "LL3", "c": "h", "lat": 24, "z": 62}, {"id": "LL3", "c": "h", "lat": 17.9, "z": 66}, {"id": "LL3", "c": "h", "lat": 9.7, "z": 68}, {"id": "LL3", "c": "h", "lat": 0, "z": 71},
      {"id": "H0", "c": "z", "lat": 81.1, "z": 23}, {"id": "H0", "c": "z", "lat": 62.2, "z": 23}, {"id": "H0", "c": "z", "lat": 54.6, "z": 21}, {"id": "H0", "c": "z", "lat": 47.6, "z": 19}, {"id": "H0", "c": "z", "lat": 39.2, "z": 18}, {"id": "H0", "c": "z", "lat": 31.6, "z": 21}, {"id": "H0", "c": "z", "lat": 24, "z": 28}, {"id": "H0", "c": "z", "lat": 16.2, "z": 34}, {"id": "H0", "c": "z", "lat": 8.6, "z": 41}, {"id": "H0", "c": "z", "lat": 0, "z": 48},
      {"id": "H1", "c": "m", "lat": 81.1, "z": 19}, {"id": "H1", "c": "m", "lat": 72, "z": 19}, {"id": "H1", "c": "m", "lat": 66, "z": 18},
      {"id": "H2", "c": "m", "lat": 81.1, "z": 16}, {"id": "H2", "c": "m", "lat": 70, "z": 16}, {"id": "H2", "c": "m", "lat": 62, "z": 15},
      {"id": "H3", "c": "m", "lat": 81.1, "z": 13}, {"id": "H3", "c": "m", "lat": 73, "z": 13}, {"id": "H3", "c": "m", "lat": 60, "z": 12}, {"id": "H3", "c": "m", "lat": 56, "z": 11},
      {"id": "H4", "c": "m", "lat": 81.1, "z": 10}, {"id": "H4", "c": "m", "lat": 72, "z": 10}, {"id": "H4", "c": "m", "lat": 66, "z": 9},
      {"id": "H5", "c": "m", "lat": 81.1, "z": 7}, {"id": "H5", "c": "m", "lat": 70, "z": 7}, {"id": "H5", "c": "m", "lat": 60, "z": 6}, {"id": "H5", "c": "m", "lat": 57, "z": 7},
      {"id": "H6", "c": "z", "lat": 81.1, "z": 3}, {"id": "H6", "c": "z", "lat": 65, "z": 3}, {"id": "H6", "c": "z", "lat": 58, "z": 4},
      {"id": "HL", "c": "m", "lat": 66.5, "z": 8}, {"id": "HL", "c": "m", "lat": 60, "z": 9}, {"id": "HL", "c": "m", "lat": 57.5, "z": 6}, {"id": "HL", "c": "m", "lat": 60, "z": 3}, {"id": "HL", "c": "m", "lat": 66.5, "z": 3},
      {"id": "S1", "c": "m", "lat": 42.5, "z": 0}, {"id": "S1", "c": "m", "lat": 40.5, "z": 9}, {"id": "S1", "c": "m", "lat": 37.4, "z": 13}, {"id": "S1", "c": "m", "lat": 34.3, "z": 9}, {"id": "S1", "c": "m", "lat": 32.6, "z": 0},
      {"id": "S2", "c": "h", "lat": 38.4, "z": 0}, {"id": "S2", "c": "h", "lat": 37, "z": 6}, {"id": "S2", "c": "h", "lat": 34.9, "z": 6}, {"id": "S2", "c": "h", "lat": 33.9, "z": 0},
      {"id": "S3", "c": "m", "lat": 26.5, "z": 0}, {"id": "S3", "c": "m", "lat": 25.7, "z": 10}, {"id": "S3", "c": "m", "lat": 24, "z": 15}, {"id": "S3", "c": "m", "lat": 22, "z": 15}, {"id": "S3", "c": "m", "lat": 20.5, "z": 10}, {"id": "S3", "c": "m", "lat": 21.6, "z": 5}, {"id": "S3", "c": "m", "lat": 24, "z": 4}, {"id": "S3", "c": "m", "lat": 24.8, "z": 0},
      {"id": "S4", "c": "h", "lat": 18.3, "z": 0}, {"id": "S4", "c": "h", "lat": 17.2, "z": 14}, {"id": "S4", "c": "h", "lat": 15.8, "z": 26}, {"id": "S4", "c": "h", "lat": 14.2, "z": 29}, {"id": "S4", "c": "h", "lat": 12.1, "z": 26}, {"id": "S4", "c": "h", "lat": 10.3, "z": 18}, {"id": "S4", "c": "h", "lat": 7.6, "z": 11}, {"id": "S4", "c": "h", "lat": 5.5, "z": 13}, {"id": "S4", "c": "h", "lat": 3.5, "z": 18}, {"id": "S4", "c": "h", "lat": 1.4, "z": 26}, {"id": "S4", "c": "h", "lat": 0, "z": 31},
      {"id": "S5", "c": "h", "lat": 10.7, "z": 26}, {"id": "S5", "c": "h", "lat": 9.7, "z": 33}, {"id": "S5", "c": "h", "lat": 8, "z": 33}, {"id": "S5", "c": "h", "lat": 7.2, "z": 26}, {"id": "S5", "c": "h", "lat": 8.2, "z": 19}, {"id": "S5", "c": "h", "lat": 10.1, "z": 21}, {"id": "S5", "c": "h", "lat": 10.7, "z": 26},
      {"id": "S6", "c": "m", "lat": 7, "z": 0}, {"id": "S6", "c": "m", "lat": 5.5, "z": 8}, {"id": "S6", "c": "m", "lat": 4.1, "z": 13}, {"id": "S6", "c": "m", "lat": 2.5, "z": 15}, {"id": "S6", "c": "m", "lat": 0, "z": 18}
    ],
    "botLab": [
      {"t": "0", "lat": 58.7, "z": 269}, {"t": "0", "lat": 28.5, "z": 239}, {"t": "-5", "lat": 66.5, "z": 250}, {"t": "-10", "lat": 74.5, "z": 226}, {"t": "-5", "lat": 25.5, "z": 201}, {"t": "0", "lat": 47.6, "z": 19},
      {"t": "20", "lat": 73.9, "z": 12}, {"t": "15", "lat": 67.1, "z": 12}, {"t": "10", "lat": 62.4, "z": 14}, {"t": "5", "lat": 56.3, "z": 15},
      {"t": "0", "lat": 64.1, "z": 66}, {"t": "5", "lat": 74.3, "z": 90}, {"t": "10", "lat": 55, "z": 135}, {"t": "-10", "lat": 24, "z": 158}, {"t": "-15", "lat": 24.8, "z": 133},
      {"t": "0", "lat": 5.5, "z": 150}, {"t": "0", "lat": 43.9, "z": 72}, {"t": "15", "lat": 11.2, "z": 89}, {"t": "-10", "lat": 24, "z": 66}, {"t": "-5", "lat": 79.1, "z": 57}, {"t": "-5", "lat": 41.5, "z": 35},
      {"t": "0", "lat": 40.5, "z": 9}, {"t": "5", "lat": 23, "z": 14}, {"t": "5", "lat": 8.8, "z": 31}, {"t": "0", "lat": 4.1, "z": 12}
    ]
  },
  "vconcat": [
    {
      "width": 431,
      "height": 349,
      "title": {"text": "RELATIVE HUMIDITY - STANDARD"},
      "layer": [
        {
          "data": {"name": "top"},
          "mark": {"type": "line", "interpolate": "catmull-rom", "color": "black"},
          "encoding": {
            "x": {"field": "lat", "type": "quantitative", "scale": {"domain": [90, 0]},
              "axis": {"values": [90, 80, 70, 60, 50, 40, 30, 20, 10, 0], "labelExpr": "datum.value + '°'", "tickSize": -6, "labelPadding": 13, "labelFontSize": 13, "title": "LATITUDE", "titleFontSize": 16, "titleFontWeight": "normal", "titlePadding": 15, "domain": false}},
            "y": {"field": "z", "type": "quantitative", "scale": {"domain": [0, 349]},
              "axis": {"values": [349, 202, 138, 93, 63, 38, 22, 6, 0], "labelExpr": "datum.value == 349 ? '.009' : datum.value == 202 ? '.074' : datum.value == 138 ? '.189' : datum.value == 93 ? '.336' : datum.value == 63 ? '.500' : datum.value == 38 ? '.664' : datum.value == 22 ? '.811' : datum.value == 6 ? '.926' : '.991'", "labelOffset": {"condition": {"test": "datum.value == 0", "value": 7}, "value": 0}, "tickSize": 7, "labelFontSize": 11.5, "labelPadding": 2, "title": "⟵P/P*", "titleFontSize": 17, "titleFontWeight": "normal", "titlePadding": 22, "titleY": 157, "domain": false}},
            "detail": {"field": "id"},
            "strokeDash": {"field": "c", "type": "nominal", "scale": {"domain": ["m", "h", "z"], "range": [[1, 0], [5, 3], [1, 0]]}, "legend": null},
            "strokeWidth": {"field": "c", "type": "nominal", "scale": {"domain": ["m", "h", "z"], "range": [1.1, 1.1, 2]}, "legend": null},
            "order": {"value": null}
          }
        },
        {
          "data": {"name": "topLab"},
          "mark": {"type": "text", "fontSize": 10, "stroke": "white", "strokeWidth": 4, "fill": "white"},
          "encoding": {
            "x": {"field": "lat", "type": "quantitative"},
            "y": {"field": "z", "type": "quantitative", "scale": {"domain": [0, 349]},
              "axis": {"orient": "right", "values": [325, 205, 107, 0], "labelExpr": "datum.value == 325 ? '30' : datum.value == 205 ? '20' : datum.value == 107 ? '10' : '0'", "tickSize": 8, "labelFontSize": 15, "labelPadding": 9, "title": "HEIGHT (Km) ⟶", "titleAngle": -90, "titleFontSize": 18, "titleFontWeight": "normal", "titlePadding": 19, "domain": false}},
            "text": {"field": "t"}
          }
        },
        {
          "data": {"name": "topLab"},
          "mark": {"type": "text", "fontSize": 10, "color": "black"},
          "encoding": {
            "x": {"field": "lat", "type": "quantitative"},
            "y": {"field": "z", "type": "quantitative", "scale": {"domain": [0, 349]}, "axis": null},
            "text": {"field": "t"}
          }
        },
        {
          "data": {"values": [{"t": "a", "lat": 85, "z": 323}]},
          "mark": {"type": "text", "fontSize": 16, "color": "black"},
          "encoding": {
            "x": {"field": "lat", "type": "quantitative"},
            "y": {"field": "z", "type": "quantitative", "scale": {"domain": [0, 349]}, "axis": null},
            "text": {"field": "t"}
          }
        }
      ],
      "resolve": {"scale": {"y": "independent"}}
    },
    {
      "width": 436,
      "height": 354,
      "title": {"text": "ZONAL MEAN RELATIVE HUMIDITY DIFFERENCE+2% - (-4%)"},
      "layer": [
        {
          "data": {"name": "bot"},
          "mark": {"type": "line", "interpolate": "catmull-rom", "color": "black"},
          "encoding": {
            "x": {"field": "lat", "type": "quantitative", "scale": {"domain": [90, 0]},
              "axis": {"values": [90, 80, 70, 60, 50, 40, 30, 20, 10, 0], "labelExpr": "datum.value + '°'", "tickSize": -6, "labelPadding": 13, "labelFontSize": 13, "title": "LATITUDE", "titleFontSize": 16, "titleFontWeight": "normal", "titlePadding": 12, "domain": false}},
            "y": {"field": "z", "type": "quantitative", "scale": {"domain": [0, 354]},
              "axis": {"values": [354, 205, 139, 93, 63, 37, 23, 9, 0], "labelExpr": "datum.value == 354 ? '.009' : datum.value == 205 ? '.074' : datum.value == 139 ? '.189' : datum.value == 93 ? '.336' : datum.value == 63 ? '.500' : datum.value == 37 ? '.664' : datum.value == 23 ? '.811' : datum.value == 9 ? '926' : '.991'", "labelOffset": {"condition": {"test": "datum.value == 0", "value": 5}, "value": 0}, "tickSize": 7, "labelFontSize": 11, "labelPadding": 2, "title": "⟵P/P*", "titleFontSize": 17, "titleFontWeight": "normal", "titlePadding": 22, "titleY": 192, "domain": false}},
            "detail": {"field": "id"},
            "strokeDash": {"field": "c", "type": "nominal", "scale": {"domain": ["m", "h", "z"], "range": [[1, 0], [8, 5], [1, 0]]}, "legend": null},
            "strokeWidth": {"field": "c", "type": "nominal", "scale": {"domain": ["m", "h", "z"], "range": [1.3, 1.3, 2.3]}, "legend": null},
            "order": {"value": null}
          }
        },
        {
          "data": {"name": "botLab"},
          "mark": {"type": "text", "fontSize": 10, "stroke": "white", "strokeWidth": 4, "fill": "white"},
          "encoding": {
            "x": {"field": "lat", "type": "quantitative"},
            "y": {"field": "z", "type": "quantitative", "scale": {"domain": [0, 354]},
              "axis": {"orient": "right", "values": [321, 213, 96, 0], "labelExpr": "datum.value == 321 ? '30' : datum.value == 213 ? '20' : datum.value == 96 ? '10' : '0'", "tickSize": 8, "labelFontSize": 15, "labelPadding": 9, "title": "HEIGHT (Km) ⟶", "titleAngle": -90, "titleFontSize": 18, "titleFontWeight": "normal", "titlePadding": 17, "domain": false}},
            "text": {"field": "t"}
          }
        },
        {
          "data": {"name": "botLab"},
          "mark": {"type": "text", "fontSize": 10, "color": "black"},
          "encoding": {
            "x": {"field": "lat", "type": "quantitative"},
            "y": {"field": "z", "type": "quantitative", "scale": {"domain": [0, 354]}, "axis": null},
            "text": {"field": "t"}
          }
        },
        {
          "data": {"values": [{"t": "b", "lat": 86, "z": 316}]},
          "mark": {"type": "text", "fontSize": 16, "color": "black"},
          "encoding": {
            "x": {"field": "lat", "type": "quantitative"},
            "y": {"field": "z", "type": "quantitative", "scale": {"domain": [0, 354]}, "axis": null},
            "text": {"field": "t"}
          }
        }
      ],
      "resolve": {"scale": {"y": "independent"}}
    }
  ]
}
